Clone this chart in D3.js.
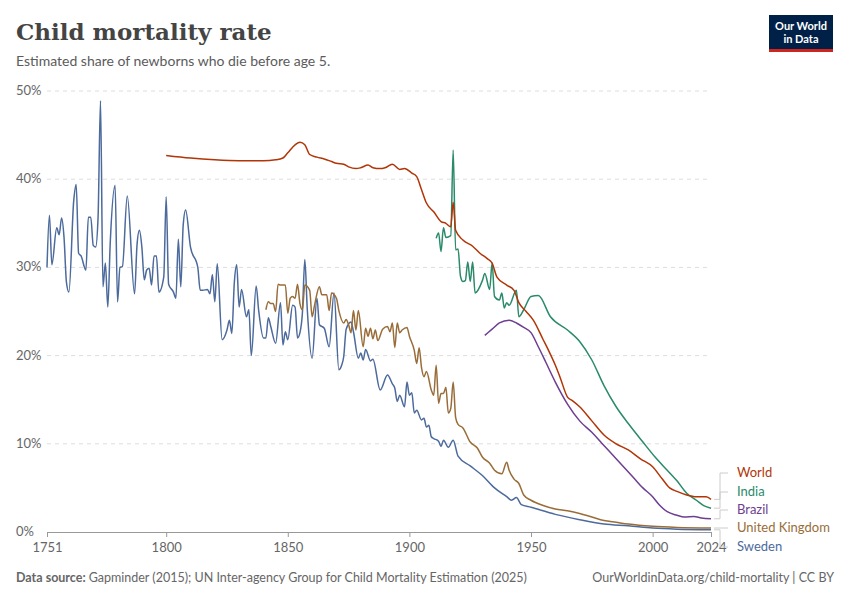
<!DOCTYPE html>
<html lang="en">
<head>
<meta charset="UTF-8">
<title>Child mortality rate</title>
<script src="https://cdn.jsdelivr.net/npm/d3@7"></script>
<style>
  body { margin: 0; background: #fff; }
  svg text { font-family: Lato, "Noto Sans", sans-serif; }
</style>
</head>
<body>
<svg width="850" height="600"></svg>
<script>
// data: [year, percent]
var sweden = [[1751,30.0],[1752,35.9],[1753,30.3],[1755,34.5],[1756,33.7],[1757,35.6],[1758,33.4],[1759,28.3],[1760,27.2],
  [1762,37.6],[1763,39.4],[1764,31.6],[1765,31.3],[1767,29.7],[1768,35.7],[1769,35.7],[1770,32.5],[1771,32.3],[1772,35.7],
  [1773,48.9],[1774,27.8],[1775,30.5],[1776,25.5],[1777,32.8],[1779,39.3],[1780,26.1],[1781,30.0],[1782,30.1],[1784,38.1],
  [1787,27.0],[1788,32.5],[1789,34.2],[1790,32.3],[1791,28.6],[1792,29.7],[1793,29.9],[1794,28.0],[1795,31.3],[1796,31.3],
  [1797,27.2],[1799,28.9],[1800,38.0],[1801,28.1],[1803,27.2],[1804,26.5],[1805,33.2],[1806,27.8],[1807,34.8],[1808,36.5],
  [1810,32.3],[1813,30.0],[1814,27.4],[1815,27.4],[1817,27.5],[1818,27.0],[1819,29.2],[1820,26.1],[1821,30.4],[1823,21.8],
  [1825,22.9],[1826,24.0],[1827,22.5],[1828,28.2],[1829,30.3],[1830,25.5],[1831,27.5],[1833,24.4],[1834,25.2],[1835,20.0],
  [1837,27.9],[1838,25.2],[1840,22.0],[1841,22.0],[1842,24.3],[1843,23.3],[1845,21.4],[1847,26.0],[1848,21.2],[1849,22.7],
  [1850,21.8],[1852,25.7],[1853,25.5],[1854,22.0],[1855,22.6],[1856,24.8],[1857,30.9],[1858,25.3],[1860,19.7],[1862,26.5],
  [1863,23.5],[1865,23.1],[1867,21.0],[1869,27.1],[1871,18.4],[1872,18.8],[1873,19.9],[1874,23.0],[1876,23.8],[1877,22.7],
  [1879,19.7],[1880,20.3],[1881,19.5],[1882,20.7],[1884,19.4],[1885,19.6],[1888,16.1],[1891,17.8],[1893,16.8],[1894,16.3],
  [1895,14.8],[1896,15.5],[1898,14.2],[1899,17.0],[1900,15.5],[1901,15.8],[1902,13.5],[1903,13.8],[1905,12.7],[1906,12.9],
  [1907,11.9],[1908,12.1],[1909,10.8],[1910,10.6],[1912,10.3],[1913,9.7],[1914,10.4],[1916,9.6],[1918,10.4],[1920,8.6],
  [1925,7.5],[1930,6.4],[1935,5.0],[1940,4.0],[1942,3.6],[1944,3.9],[1946,3.1],[1950,2.8],[1960,2.0],[1970,1.4],[1980,0.9],
  [1990,0.7],[2000,0.45],[2010,0.32],[2024,0.25]];

var uk = [[1841,25.2],[1842,26.1],[1843,25.9],[1844,25.9],[1845,25.0],[1846,28.1],[1847,28.0],[1849,28.0],[1850,24.8],
  [1851,26.5],[1852,26.7],[1853,26.5],[1854,28.1],[1855,25.9],[1856,25.2],[1857,28.0],[1859,27.4],[1860,24.4],[1861,25.7],
  [1863,27.8],[1864,26.9],[1866,26.9],[1867,25.1],[1868,27.1],[1870,26.5],[1871,25.1],[1873,23.7],[1874,24.1],[1875,23.5],
  [1876,22.6],[1877,25.1],[1878,22.9],[1879,25.1],[1881,21.0],[1882,23.1],[1883,22.2],[1884,23.1],[1885,21.9],[1886,22.9],
  [1887,21.7],[1889,23.0],[1891,23.3],[1892,22.7],[1893,23.7],[1894,20.9],[1895,23.7],[1896,22.6],[1897,22.9],[1899,23.2],
  [1900,22.2],[1902,20.6],[1903,19.1],[1904,20.9],[1905,18.6],[1906,17.6],[1907,18.2],[1909,16.1],[1910,15.5],[1911,18.9],
  [1912,14.6],[1913,15.7],[1914,15.7],[1915,16.4],[1916,13.5],[1917,14.0],[1918,17.0],[1919,13.0],[1920,12.2],[1922,11.8],
  [1925,10.2],[1928,9.5],[1930,8.5],[1933,7.8],[1935,7.0],[1938,6.6],[1940,7.9],[1941,7.0],[1943,6.0],[1945,5.5],[1947,4.2],
  [1950,3.6],[1955,3.0],[1960,2.6],[1965,2.4],[1970,2.1],[1975,1.7],[1980,1.3],[1985,1.1],[1990,0.9],[2000,0.65],[2010,0.52],
  [2024,0.45]];

var world = [[1800,42.7],[1810,42.4],[1820,42.2],[1830,42.1],[1840,42.1],[1845,42.2],[1848,42.4],[1850,43.0],[1853,43.9],
  [1855,44.2],[1857,43.9],[1859,42.8],[1862,42.5],[1865,42.3],[1868,42.0],[1870,41.8],[1873,41.7],[1875,41.4],[1878,41.2],
  [1880,41.3],[1883,41.6],[1885,41.3],[1888,41.2],[1890,41.3],[1893,41.7],[1896,41.1],[1898,41.2],[1901,40.7],[1903,40.3],
  [1905,38.8],[1907,37.3],[1910,36.3],[1913,35.2],[1915,35.0],[1917,34.6],[1918,37.4],[1919,34.2],[1922,33.1],[1926,32.4],
  [1929,31.6],[1932,31.0],[1934,30.5],[1936,28.9],[1940,28.0],[1943,27.4],[1945,26.0],[1948,25.0],[1951,24.0],[1955,21.8],
  [1957,20.7],[1960,18.9],[1962,17.5],[1965,15.3],[1967,14.9],[1970,14.2],[1975,12.6],[1980,11.0],[1985,10.0],[1990,9.3],
  [1995,8.3],[2000,7.4],[2004,6.0],[2007,5.0],[2010,4.6],[2014,4.2],[2018,4.0],[2022,4.0],[2024,3.7]];

var india = [[1911,33.3],[1912,33.9],[1913,31.8],[1914,34.5],[1915,33.4],[1917,33.6],[1918,43.3],[1919,32.0],[1920,32.1],
  [1921,29.0],[1922,28.4],[1923,28.5],[1924,30.6],[1925,28.4],[1926,30.6],[1927,27.1],[1930,28.5],[1931,29.3],[1933,27.5],
  [1934,30.5],[1935,26.7],[1937,26.3],[1938,27.1],[1939,25.4],[1940,26.0],[1941,25.7],[1944,27.4],[1945,24.4],[1947,25.2],
  [1950,26.7],[1953,26.8],[1958,24.4],[1965,22.9],[1970,21.6],[1975,19.5],[1980,16.6],[1985,14.2],[1990,12.3],[1996,10.2],
  [2001,8.5],[2006,7.0],[2010,5.8],[2014,4.4],[2018,3.6],[2021,3.0],[2024,2.7]];

var brazil = [[1931,22.3],[1934,23.0],[1937,23.7],[1941,24.0],[1944,23.7],[1947,23.2],[1950,22.6],[1953,21.0],[1956,19.3],
  [1960,17.0],[1965,14.5],[1970,12.6],[1975,11.3],[1979,10.1],[1985,8.3],[1992,6.2],[1996,5.0],[2000,4.0],[2003,3.0],
  [2006,2.3],[2010,1.9],[2013,1.7],[2017,1.75],[2020,1.6],[2024,1.5]];

var yTicks = [0, 10, 20, 30, 40, 50];
var xTicks = [1751, 1800, 1850, 1900, 1950, 2000, 2024];

var series = [
  {name: "World", data: world, color: "#B13507", labelY: 477},
  {name: "India", data: india, color: "#2A8A6A", labelY: 496},
  {name: "Brazil", data: brazil, color: "#6D3E91", labelY: 514},
  {name: "United Kingdom", data: uk, color: "#996D39", labelY: 532},
  {name: "Sweden", data: sweden, color: "#4C6A9C", labelY: 551}
];

var svg = d3.select("svg");
var x = d3.scaleLinear().domain([1751, 2024]).range([47, 711]);
var y = d3.scaleLinear().domain([0, 50]).range([532, 91]);

// title block
svg.append("text").attr("x", 16).attr("y", 40).text("Child mortality rate")
  .style("font-family", "'DejaVu Serif', 'Liberation Serif', serif").style("font-size", "23px")
  .style("font-weight", "bold").attr("fill", "#444");
svg.append("text").attr("x", 16).attr("y", 66).text("Estimated share of newborns who die before age 5.")
  .style("font-size", "14px").attr("fill", "#5b5b5b");

// logo
var logo = svg.append("g").attr("transform", "translate(769,15)");
logo.append("rect").attr("width", 64).attr("height", 37).attr("fill", "#002147");
logo.append("rect").attr("y", 34).attr("width", 64).attr("height", 3).attr("fill", "#ce261e");
logo.append("text").attr("x", 32).attr("y", 15).attr("text-anchor", "middle").attr("fill", "#fff")
  .style("font-size", "11px").style("font-weight", "bold").text("Our World");
logo.append("text").attr("x", 32).attr("y", 28).attr("text-anchor", "middle").attr("fill", "#fff")
  .style("font-size", "11px").style("font-weight", "bold").text("in Data");

// grid + y labels
yTicks.forEach(function (t) {
  if (t > 0) {
    svg.append("line").attr("x1", 47).attr("x2", 711).attr("y1", y(t)).attr("y2", y(t))
      .attr("stroke", "#ddd").attr("stroke-dasharray", "4,4");
  }
  svg.append("text").attr("x", 16).attr("y", y(t) + 4).text(t + "%")
    .style("font-size", "13px").attr("fill", "#666");
});

// x axis
var xAxis = d3.axisBottom(x).tickValues(xTicks).tickFormat(d3.format("d")).tickSize(5).tickSizeOuter(0);
var gx = svg.append("g").attr("transform", "translate(0,532)").call(xAxis);
gx.select(".domain").attr("stroke", "#999");
gx.selectAll(".tick line").attr("stroke", "#999");
gx.selectAll(".tick text").style("font-size", "13px").attr("fill", "#666")
  .style("font-family", "Lato, sans-serif").attr("dy", "0.9em");

// lines
var line = d3.line().curve(d3.curveMonotoneX)
  .x(function (d) { return x(d[0]); }).y(function (d) { return y(d[1]); });
series.slice().reverse().forEach(function (s) {
  svg.append("path").datum(s.data).attr("d", line).attr("fill", "none")
    .attr("stroke", s.color).attr("stroke-width", 1.5).attr("stroke-linejoin", "round");
});

// labels with connectors
series.forEach(function (s) {
  var last = s.data[s.data.length - 1];
  var ey = y(last[1]), ly = s.labelY - 4;
  svg.append("path").attr("d", "M714," + ey + "H720V" + ly + "H728")
    .attr("fill", "none").attr("stroke", "#ccc").attr("stroke-width", 1);
  svg.append("text").attr("x", 737).attr("y", s.labelY).text(s.name)
    .style("font-size", "13px").attr("fill", s.color);
});

// footer
var foot = svg.append("text").attr("x", 16).attr("y", 582).style("font-size", "12.5px").attr("fill", "#666");
foot.append("tspan").style("font-weight", "bold").text("Data source: ");
foot.append("tspan").text("Gapminder (2015); UN Inter-agency Group for Child Mortality Estimation (2025)");
svg.append("text").attr("x", 834).attr("y", 582).attr("text-anchor", "end").style("font-size", "12.5px")
  .attr("fill", "#666").text("OurWorldinData.org/child-mortality | CC BY");
</script>
</body>
</html>
